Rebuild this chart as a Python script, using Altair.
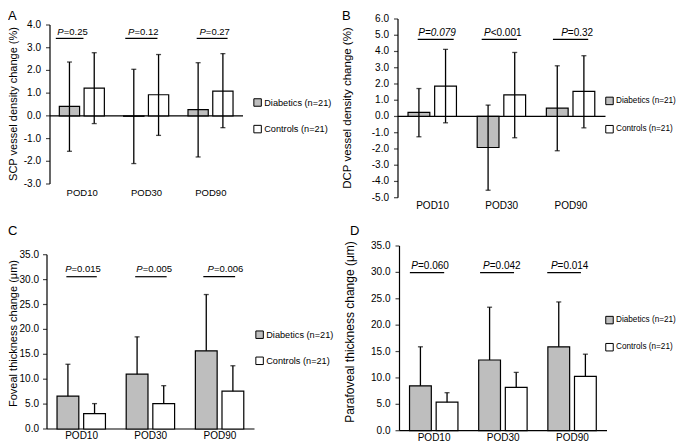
import altair as alt
import pandas as pd

FONT = "Liberation Sans"
W, H = 669, 434

categories = ["POD10", "POD30", "POD90"]
groups = ["Diabetics (n=21)", "Controls (n=21)"]

# Panel A - SCP vessel density change (%)
a_dia_mean = [0.42, -0.02, 0.27]
a_dia_upper = [2.37, 2.05, 2.34]
a_dia_lower = [-1.56, -2.10, -1.81]
a_ctl_mean = [1.22, 0.93, 1.09]
a_ctl_upper = [2.78, 2.70, 2.74]
a_ctl_lower = [-0.34, -0.86, -0.52]
a_pvals = ["=0.25", "=0.12", "=0.27"]
a_pital = [False, False, False]
a_yticks = [-3, -2, -1, 0, 1, 2, 3, 4]

# Panel B - DCP vessel density change (%)
b_dia_mean = [0.25, -1.91, 0.51]
b_dia_upper = [1.72, 0.70, 3.12]
b_dia_lower = [-1.25, -4.54, -2.11]
b_ctl_mean = [1.87, 1.33, 1.54]
b_ctl_upper = [4.13, 3.94, 3.74]
b_ctl_lower = [-0.39, -1.31, -0.70]
b_pvals = ["=0.079", "<0.001", "=0.32"]
b_pital = [True, False, False]
b_yticks = [-5, -4, -3, -2, -1, 0, 1, 2, 3, 4, 5, 6]

# Panel C - Foveal thickness change (um)
c_dia_mean = [6.6, 11.0, 15.7]
c_dia_upper = [13.0, 18.5, 27.0]
c_ctl_mean = [3.1, 5.1, 7.6]
c_ctl_upper = [5.1, 8.7, 12.7]
c_pvals = ["=0.015", "=0.005", "=0.006"]
c_pital = [False, False, False]
c_yticks = [0, 5, 10, 15, 20, 25, 30, 35]

# Panel D - Parafoveal thickness change (um)
d_dia_mean = [8.5, 13.4, 15.9]
d_dia_upper = [15.9, 23.4, 24.4]
d_ctl_mean = [5.4, 8.2, 10.3]
d_ctl_upper = [7.2, 11.05, 14.5]
d_pvals = ["=0.060", "=0.042", "=0.014"]
d_pital = [False, False, False]
d_yticks = [0, 5, 10, 15, 20, 25, 30, 35]

DIA_COLOR = "#bebebe"
CTL_COLOR = "#ffffff"
BAR_OFF = {groups[0]: (-0.355, -0.04), groups[1]: (0.03, 0.345)}
CHAR_W = {"P": 0.667, "=": 0.584, "<": 0.584, ".": 0.278}


def text_w(s, fs):
    return sum(CHAR_W.get(c, 0.556) for c in s) * fs


def panel(letter, dia_mean, dia_up, dia_lo, ctl_mean, ctl_up, ctl_lo,
          pvals, pital, yticks, lay):
    n = len(categories)
    rows = []
    for i in range(n):
        for g, m, up, lo in ((groups[0], dia_mean[i], dia_up[i], dia_lo[i]),
                             (groups[1], ctl_mean[i], ctl_up[i], ctl_lo[i])):
            o0, o1 = BAR_OFF[g]
            rows.append(dict(cat=categories[i], group=g, x0=i + o0, x1=i + o1,
                             pos=i + (o0 + o1) / 2, mean=m, hi=up, lo=lo,
                             zero=0.0))
    df = pd.DataFrame(rows)
    xr, yr = lay["xr"], lay["yr"]
    xdom = [-0.5, n - 0.5]
    ydom = [yticks[0], yticks[-1]]
    xs = alt.Scale(domain=xdom, range=list(xr), nice=False, zero=False)
    ys = alt.Scale(domain=ydom, range=list(yr), nice=False, zero=False)

    def X(f):
        return alt.X(f, scale=xs, axis=None)

    def Y(f):
        return alt.Y(f, scale=ys, axis=None)

    base = alt.Chart(df)
    legend = alt.Legend(orient="none", legendX=lay["lx"], legendY=lay["ly"],
                        direction="vertical", title=None, symbolType="square",
                        symbolSize=56, symbolStrokeColor="black", symbolStrokeWidth=1,
                        labelFont=FONT, labelFontSize=lay["lfs"], labelColor="black",
                        labelOffset=2, rowPadding=lay["lrow"], padding=0, offset=0)
    layers = []

    # --- hand-built axes (through the panel's scales) ---
    ydf = pd.DataFrame({"v": yticks, "lab": [f"{v:.1f}" for v in yticks],
                        "x": [xdom[0]] * len(yticks)})
    ybase = alt.Chart(ydf)
    axdf = pd.DataFrame({"x0": [xdom[0]], "x1": [xdom[1]], "y0": [ydom[0]],
                         "y1": [ydom[1]]})
    layers.append(alt.Chart(axdf).mark_rule(color="black", strokeWidth=1.2).encode(
        x=X("x0:Q"), y=Y("y0:Q"), y2="y1:Q"))
    layers.append(ybase.mark_tick(orient="horizontal", size=4, thickness=1.2,
                                  color="black", xOffset=-2).encode(
        x=X("x:Q"), y=Y("v:Q")))
    layers.append(ybase.mark_text(align="right", baseline="middle",
                                  dx=-(4 + lay["ypad"]), font=FONT, fontSize=10,
                                  color="black").encode(
        x=X("x:Q"), y=Y("v:Q"), text="lab:N"))
    xdf = pd.DataFrame({"i": list(range(n)), "lab": categories,
                        "y": [ydom[0]] * n})
    layers.append(alt.Chart(xdf).mark_text(align="center", baseline="top",
                                           dy=lay["xpad"], font=FONT,
                                           fontSize=lay["xfs"], color="black").encode(
        x=X("i:Q"), y=Y("y:Q"), text="lab:N"))
    if lay["zero"]:
        zdf = pd.DataFrame({"x0": [xdom[0]], "x1": [xdom[1]], "y": [0.0]})
    else:
        zdf = pd.DataFrame({"x0": [xdom[0]], "x1": [xdom[1]], "y": [ydom[0]]})
    layers.append(alt.Chart(zdf).mark_rule(color="black", strokeWidth=1.2).encode(
        x=X("x0:Q"), x2="x1:Q", y=Y("y:Q")))
    layers.append(alt.Chart(pd.DataFrame({"t": [lay["ytitle"]]})).mark_text(
        angle=270, align="center", baseline="middle", font=FONT,
        fontSize=lay["tfs"], color="black").encode(
        x=alt.value(lay["tx"]), y=alt.value(lay["ty"]), text="t:N"))

    # --- bars and error bars ---
    bars = base.mark_bar(stroke="black", strokeWidth=1.2).encode(
        x=X("x0:Q"), x2="x1:Q", y=Y("mean:Q"), y2="zero:Q",
        color=alt.Color("group:N", scale=alt.Scale(domain=groups,
                        range=[DIA_COLOR, CTL_COLOR]), legend=legend))
    err = base.mark_rule(color="black", strokeWidth=1.3).encode(
        x=X("pos:Q"), y=Y("lo:Q"), y2="hi:Q")
    cap_hi = base.mark_tick(orient="horizontal", size=5, thickness=1.3,
                            color="black").encode(x=X("pos:Q"), y=Y("hi:Q"))
    layers += [bars, err, cap_hi]
    if lay["zero"]:
        layers.append(base.mark_tick(orient="horizontal", size=5, thickness=1.3,
                                     color="black").encode(x=X("pos:Q"), y=Y("lo:Q")))

    # --- significance lines and p-values ---
    catpx = (xr[1] - xr[0]) / n
    prow = []
    for i in range(n):
        c = i + lay["pc"][i]
        tw = text_w("P" + pvals[i], lay["pfs"])
        anchor = c + (-tw / 2 + CHAR_W["P"] * lay["pfs"]) / catpx
        prow.append(dict(x0=i + lay["pl"][i][0], x1=i + lay["pl"][i][1],
                         y=lay["py"], anchor=anchor, rest=pvals[i], ital=pital[i]))
    pdf = pd.DataFrame(prow)
    pbase = alt.Chart(pdf)
    layers.append(pbase.mark_rule(color="black", strokeWidth=1.2).encode(
        x=X("x0:Q"), x2="x1:Q", y=Y("y:Q")))
    tkw = dict(baseline="alphabetic", dy=lay["pdy"], font=FONT,
               fontSize=lay["pfs"], color="black")
    layers.append(pbase.mark_text(text="P", fontStyle="italic", align="right",
                                  **tkw).encode(x=X("anchor:Q"), y=Y("y:Q")))
    layers.append(pbase.transform_filter("!datum.ital").mark_text(
        align="left", **tkw).encode(text="rest:N", x=X("anchor:Q"), y=Y("y:Q")))
    layers.append(pbase.transform_filter("datum.ital").mark_text(
        align="left", fontStyle="italic", **tkw).encode(
        text="rest:N", x=X("anchor:Q"), y=Y("y:Q")))
    layers.append(alt.Chart(pd.DataFrame({"t": [letter]})).mark_text(
        align="left", baseline="alphabetic", font=FONT, fontSize=13,
        color="black").encode(x=alt.value(lay["letter"][0]),
                              y=alt.value(lay["letter"][1]), text="t:N"))
    return alt.layer(*layers)


lay_a = dict(xr=(42, 235), yr=(176, 17), xfs=9.5, xpad=4, ypad=5,
             ytitle="SCP vessel density change (%)", tfs=11, tx=6, ty=96,
             letter=(0, 11.5), lx=245, ly=89.9, lrow=13.6, lfs=9.2, py=3.41,
             pl=[(-0.41, 0.02), (-0.33, 0.17), (-0.22, 0.26)],
             pc=[-0.15, -0.05, 0.06], pfs=9.5, pdy=-3, zero=True)
lay_b = dict(xr=(390, 597.5), yr=(189.7, 11), xfs=10, xpad=3.7, ypad=5,
             ytitle="DCP vessel density change (%)", tfs=11.5, tx=340, ty=100,
             letter=(334, 11.5), lx=597, ly=88.4, lrow=15.3, lfs=8.2, py=4.74,
             pl=[(-0.215, 0.305), (-0.29, 0.22), (-0.26, 0.25)],
             pc=[0.065, 0.015, 0.09], pfs=10, pdy=-3.5, zero=True)
lay_c = dict(xr=(39, 246.5), yr=(421, 246.7), xfs=10, xpad=2, ypad=4,
             ytitle="Foveal thickness change (\u03bcm)", tfs=11, tx=5.5, ty=325.5,
             letter=(0, 227), lx=247, ly=322.1, lrow=13.1, lfs=9.2, py=30.58,
             pl=[(-0.22, 0.22), (-0.225, 0.23), (-0.24, 0.22)],
             pc=[0.02, 0.05, 0.08], pfs=9.5, pdy=-5, zero=False)
lay_d = dict(xr=(391.5, 599), yr=(422.7, 238), xfs=10, xpad=2.3, ypad=5,
             ytitle="Parafoveal thickness change (\u03bcm)", tfs=12, tx=342, ty=324,
             letter=(342, 227), lx=597, ly=307.6, lrow=14.1, lfs=8.2, py=29.95,
             pl=[(-0.35, 0.146), (-0.335, 0.156), (-0.364, 0.123)],
             pc=[-0.058, -0.02, -0.04], pfs=10, pdy=-4, zero=False)

pA = panel("A", a_dia_mean, a_dia_upper, a_dia_lower, a_ctl_mean, a_ctl_upper,
           a_ctl_lower, a_pvals, a_pital, a_yticks, lay_a)
pB = panel("B", b_dia_mean, b_dia_upper, b_dia_lower, b_ctl_mean, b_ctl_upper,
           b_ctl_lower, b_pvals, b_pital, b_yticks, lay_b)
pC = panel("C", c_dia_mean, c_dia_upper, c_dia_mean, c_ctl_mean, c_ctl_upper,
           c_ctl_mean, c_pvals, c_pital, c_yticks, lay_c)
pD = panel("D", d_dia_mean, d_dia_upper, d_dia_mean, d_ctl_mean, d_ctl_upper,
           d_ctl_mean, d_pvals, d_pital, d_yticks, lay_d)

chart = (
    alt.layer(pA, pB, pC, pD)
    .resolve_scale(x="independent", y="independent", color="independent")
    .resolve_legend(color="independent")
    .properties(width=W, height=H, autosize=alt.AutoSizeParams(type="none"), padding=0,
                background="white")
    .configure_view(strokeWidth=0)
)

chart.save("out.html", embed_options={"renderer": "svg", "actions": False})
